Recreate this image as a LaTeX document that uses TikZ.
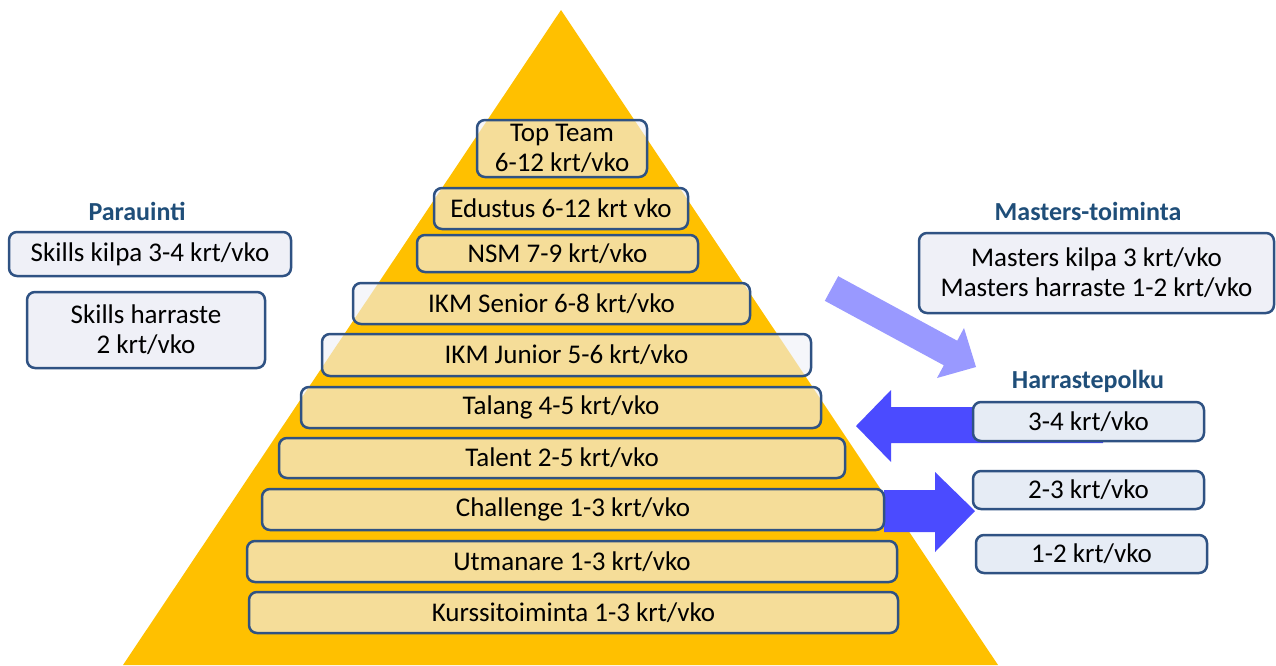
\documentclass[tikz,border=0pt]{standalone}
\usepackage{fontspec}
\setmainfont{Carlito}
\definecolor{pyr}{HTML}{FFC000}
\definecolor{bord}{HTML}{2F5283}
\definecolor{boxfill}{HTML}{EFF0F7}
\definecolor{hfill}{HTML}{E6ECF5}
\definecolor{head}{HTML}{1F4E79}
\definecolor{arrdark}{HTML}{4B4BFF}
\definecolor{arrlight}{HTML}{9999FF}
\tikzset{
  base/.style={draw=bord, line width=2.5pt, rounded corners=8pt, inner sep=0pt, align=center,
    font=\fontsize{27}{30}\selectfont},
  pbox/.style={base, fill=boxfill, fill opacity=0.62, text opacity=1},
  sbox/.style={base, fill=boxfill},
  hbox/.style={base, fill=hfill},
  heading/.style={font=\fontsize{26}{30}\selectfont\bfseries, text=head, inner sep=0pt},
}
\begin{document}
\begin{tikzpicture}[x=1pt,y=-1pt]
\useasboundingbox (0,0) rectangle (1276,665);
% pyramid
\fill[pyr] (561,10) -- (998,665) -- (123,665) -- cycle;
% arrows
\fill[arrlight] (838.2,276.2) -- (957.2,340.7) -- (964,328) -- (976,367) -- (937,378) -- (943.8,365.3) -- (824.8,300.8) -- cycle;
\fill[arrdark] (1103,407) -- (891,407) -- (891,390) -- (856,426) -- (891,462) -- (891,443) -- (1103,443) -- cycle;
\fill[arrdark] (884,490) -- (935,490) -- (935,472) -- (975,511) -- (935,552) -- (935,532) -- (884,532) -- cycle;
% pyramid levels
\node[pbox, minimum width=170pt, minimum height=57pt] (l1) at (562,148.5) {Top Team\\6-12 krt/vko};
\node[pbox, minimum width=254pt, minimum height=41pt] (l2) at (561,208.5) {Edustus 6-12 krt vko};
\node[pbox, minimum width=281pt, minimum height=37pt] (l3) at (557.5,253.5) {NSM 7-9 krt/vko};
\node[pbox, minimum width=397pt, minimum height=41pt] (l4) at (551.5,303.5) {IKM Senior 6-8 krt/vko};
\node[pbox, minimum width=489pt, minimum height=42pt] (l5) at (566.5,355) {IKM Junior 5-6 krt/vko};
\node[pbox, minimum width=520pt, minimum height=41pt] (l6) at (561,407.5) {Talang 4-5 krt/vko};
\node[pbox, minimum width=566pt, minimum height=40pt] (l7) at (562,458) {Talent 2-5 krt/vko};
\node[pbox, minimum width=622pt, minimum height=41pt] (l8) at (573,509.5) {Challenge 1-3 krt/vko};
\node[pbox, minimum width=650pt, minimum height=41pt] (l9) at (572,561.5) {Utmanare 1-3 krt/vko};
\node[pbox, minimum width=649pt, minimum height=41pt] (l10) at (573.5,612.5) {Kurssitoiminta 1-3 krt/vko};
% left
\node[heading] (parah) at (137,211) {Parauinti};
\node[sbox, minimum width=282pt, minimum height=44pt] (sk1) at (150,254) {Skills kilpa 3-4 krt/vko};
\node[sbox, minimum width=238pt, minimum height=76pt] (sk2) at (146,330) {Skills harraste\\2 krt/vko};
% right
\node[heading] (mh) at (1088,211) {Masters-toiminta};
\node[sbox, minimum width=355pt, minimum height=80pt] (m1) at (1096.5,273) {Masters kilpa 3 krt/vko\\Masters harraste 1-2 krt/vko};
\node[heading] (hh) at (1088,381) {Harrastepolku};
\node[hbox, minimum width=231pt, minimum height=39pt] (h1) at (1088.5,421.5) {3-4 krt/vko};
\node[hbox, minimum width=231pt, minimum height=38pt] (h2) at (1088.5,490) {2-3 krt/vko};
\node[hbox, minimum width=231pt, minimum height=38pt] (h3) at (1091.5,554) {1-2 krt/vko};
\end{tikzpicture}
\end{document}
